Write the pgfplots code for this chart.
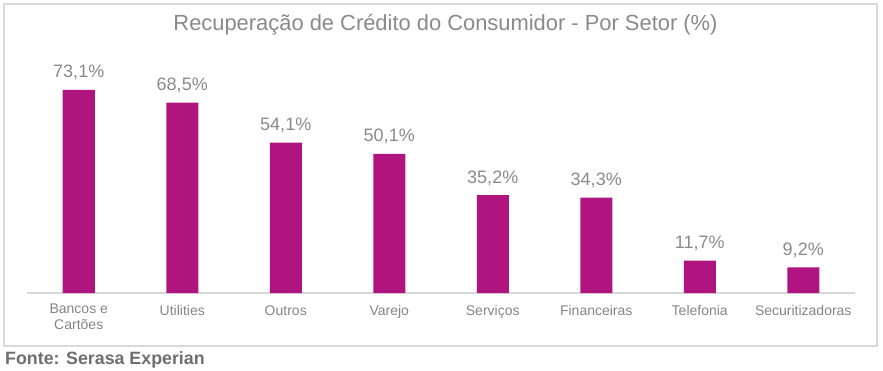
\documentclass[border=0pt]{standalone}
\usepackage{pgfplots}
\pgfplotsset{compat=1.18}
\usepackage{fontspec}
\setmainfont{Liberation Sans}
\definecolor{barc}{HTML}{B0157F}
\definecolor{txt}{HTML}{8A8A8A}
\definecolor{tick}{HTML}{858585}
\definecolor{src}{HTML}{6E6E6E}
\definecolor{frame}{HTML}{D9D9D9}
\begin{document}
\begin{tikzpicture}[x=1pt,y=1pt]
\useasboundingbox (0,0) rectangle (883,370);
\draw[frame, line width=1.5pt] (4,24) rectangle (877,366);
\node[anchor=base, inner sep=0, text=txt, font=\fontsize{21.9}{24}\selectfont] at (445.5,339) {Recuperação de Crédito do Consumidor - Por Setor (\%)};
\node[anchor=base west, inner sep=0, text=src, font=\fontsize{17.8}{20}\selectfont\bfseries] at (5,6) {Fonte: Serasa Experian};
\begin{axis}[
  at={(27pt,77pt)}, anchor=south west,
  width=828pt, height=222.2pt, scale only axis,
  xmin=-0.5, xmax=7.5, ymin=0, ymax=80,
  axis y line=none,
  axis x line*=bottom,
  x axis line style={frame, line width=1.5pt, -},
  xtick={0,1,2,3,4,5,6,7},
  xticklabels={{Bancos e\\Cartões},Utilities,Outros,Varejo,Serviços,Financeiras,Telefonia,Securitizadoras},
  major tick length=0pt,
  xticklabel style={anchor=north, inner sep=0pt, yshift=-11pt, align=center, text=tick, font=\fontsize{14}{16}\selectfont, execute at begin node={\rule{0pt}{11pt}}},
  ybar, bar width=32pt,
  clip=false,
  point meta=explicit symbolic,
  nodes near coords,
  nodes near coords style={anchor=base, inner sep=0pt, yshift=12pt, text=txt, font=\fontsize{18}{20}\selectfont},
]
\addplot[fill=barc, draw=none] coordinates {
 (0,73.1) [73,1\%]
 (1,68.5) [68,5\%]
 (2,54.1) [54,1\%]
 (3,50.1) [50,1\%]
 (4,35.2) [35,2\%]
 (5,34.3) [34,3\%]
 (6,11.7) [11,7\%]
 (7,9.2) [9,2\%]
};
\end{axis}
\end{tikzpicture}
\end{document}
